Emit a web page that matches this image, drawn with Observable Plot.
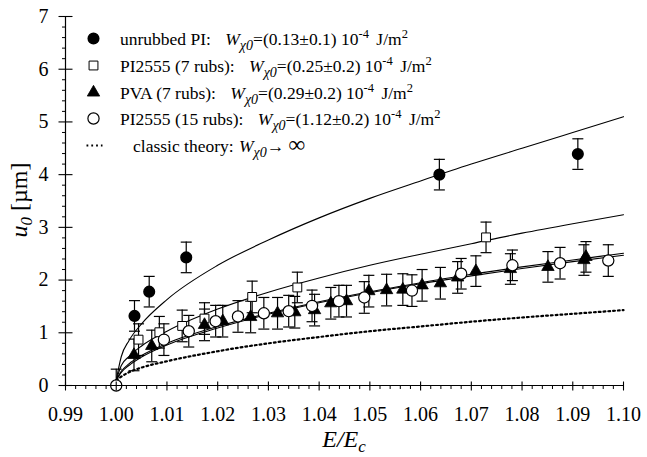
<!DOCTYPE html>
<html><head><meta charset="utf-8">
<script src="https://cdn.jsdelivr.net/npm/d3@7"></script>
<script src="https://cdn.jsdelivr.net/npm/@observablehq/plot@0.6"></script>
<style>
html,body{margin:0;padding:0;background:#fff}
svg{display:block}
svg text{font-family:"Liberation Serif","Times New Roman",serif}
</style>
</head><body><div id="chart"></div>
<script>
// ---- tick labels ----
const xTicks = [0.99, 1.00, 1.01, 1.02, 1.03, 1.04, 1.05, 1.06, 1.07, 1.08, 1.09, 1.10];
const yTicks = [0, 1, 2, 3, 4, 5, 6, 7];

// ---- measured data (E/Ec, u0, error) ----
const piX   = [1.0036, 1.0065, 1.0138, 1.0637, 1.0910];
const piY   = [1.32, 1.78, 2.43, 4.00, 4.39];
const piErr = [0.29, 0.29, 0.29, 0.29, 0.29];

const pi7X   = [1.0044, 1.0085, 1.0130, 1.0174, 1.0268, 1.0357, 1.0729];
const pi7Y   = [0.87, 1.01, 1.13, 1.27, 1.68, 1.86, 2.81];
const pi7Err = [0.30, 0.30, 0.30, 0.30, 0.30, 0.29, 0.29];

const pvaX   = [1.0035, 1.0070, 1.0174, 1.0210, 1.0265, 1.0318, 1.0352, 1.0391, 1.0423, 1.0454, 1.0498, 1.0533, 1.0565, 1.0603, 1.0639, 1.0673, 1.0709, 1.0777, 1.0851, 1.0922, 1.0926];
const pvaY   = [0.58, 0.75, 1.15, 1.22, 1.30, 1.37, 1.39, 1.43, 1.56, 1.60, 1.79, 1.81, 1.82, 1.90, 1.94, 2.05, 2.17, 2.21, 2.25, 2.38, 2.44];
const pvaErr = [0.30, 0.30, 0.30, 0.30, 0.30, 0.30, 0.30, 0.30, 0.30, 0.30, 0.30, 0.30, 0.30, 0.30, 0.30, 0.30, 0.29, 0.29, 0.29, 0.29, 0.29];

const pi15X   = [1.0000, 1.0094, 1.0143, 1.0196, 1.0240, 1.0291, 1.0340, 1.0386, 1.0439, 1.0489, 1.0583, 1.0680, 1.0781, 1.0875, 1.0970];
const pi15Y   = [0.00, 0.87, 1.03, 1.22, 1.31, 1.37, 1.41, 1.51, 1.60, 1.67, 1.80, 2.12, 2.28, 2.32, 2.37];
const pi15Err = [0.31, 0.30, 0.30, 0.30, 0.30, 0.30, 0.30, 0.30, 0.30, 0.30, 0.30, 0.29, 0.29, 0.30, 0.30];

// ---- fitted / theory curves ----
const curveX   = [1.000, 1.001, 1.0025, 1.005, 1.01, 1.02, 1.03, 1.04, 1.05, 1.06, 1.07, 1.08, 1.09, 1.10];
const fitPI    = [0.10, 0.55, 0.85, 1.17, 1.63, 2.28, 2.76, 3.18, 3.55, 3.88, 4.20, 4.50, 4.80, 5.10];
const fitPI7   = [0.10, 0.38, 0.55, 0.75, 1.03, 1.45, 1.77, 2.04, 2.28, 2.49, 2.69, 2.89, 3.07, 3.24];
const fitPVA   = [0.10, 0.25, 0.38, 0.54, 0.77, 1.09, 1.35, 1.57, 1.76, 1.93, 2.08, 2.22, 2.35, 2.47];
const fitPI15  = [0.10, 0.27, 0.41, 0.57, 0.80, 1.12, 1.37, 1.59, 1.78, 1.95, 2.11, 2.25, 2.38, 2.51];
const classic  = [0.10, 0.17, 0.25, 0.34, 0.46, 0.65, 0.80, 0.92, 1.03, 1.12, 1.21, 1.29, 1.36, 1.43];

// ---- legend text ----
const legendNames  = ["unrubbed PI: ", "PI2555 (7 rubs): ", "PVA (7 rubs): ", "PI2555 (15 rubs): ", "classic theory: "];
const legendValues = ["=(0.13\u00b10.1) 10", "=(0.25\u00b10.2) 10", "=(0.29\u00b10.2) 10", "=(1.12\u00b10.2) 10", null];

// ---- build tables ----
const pts = (X, Y, E) => X.map((x, i) => ({x, y: Y[i], e: E[i]}));
const dPI = pts(piX, piY, piErr), dPI7 = pts(pi7X, pi7Y, pi7Err), dPVA = pts(pvaX, pvaY, pvaErr), dPI15 = pts(pi15X, pi15Y, pi15Err);
const allPts = [...dPI, ...dPI7, ...dPVA, ...dPI15];
const crv = Y => curveX.map((x, i) => ({x, y: Y[i]}));

const xMinor = d3.range(0, 56).map(i => 0.99 + i * 0.002).filter(v => Math.abs((v * 100) - Math.round(v * 100)) > 1e-6);
const yMinor = d3.range(0, 36).map(i => i * 0.2).filter(v => Math.abs(v - Math.round(v)) > 1e-6);

// custom symbols
const sym = (x1, y1, x2, y2) => ({draw(c) { c.moveTo(x1, y1); c.lineTo(x2, y2); }});
const xMajSym = sym(0, -4, 0, 5), xMinSym = sym(0, 0, 0, 3.5);
const yMajSym = sym(-7, 0, 7, 0), yMinSym = sym(-3.5, 0, 0, 0);
const capSym = sym(-5.5, 0, 5.5, 0);
const dotLineSym = sym(-8, 0, 8, 0);

const FONT = '"Liberation Serif", "Times New Roman", serif';
const lineOpts = {x: "x", y: "y", stroke: "#000", strokeWidth: 1.1, curve: "monotone-x"};
const DOTS = "1.8,3";

const plot = Plot.plot({
  width: 647, height: 457,
  marginLeft: 65, marginRight: 24, marginTop: 16, marginBottom: 72,
  style: {fontSize: "20px", color: "#000", background: "#fff", overflow: "visible"},
  x: {domain: [0.99, 1.10], axis: null},
  y: {domain: [0, 7], axis: null},
  marks: [
    // curves
    Plot.line(crv(classic), {...lineOpts, strokeWidth: 2.2, strokeDasharray: DOTS}),
    Plot.line(crv(fitPI), lineOpts),
    Plot.line(crv(fitPI7), lineOpts),
    Plot.line(crv(fitPVA), lineOpts),
    Plot.line(crv(fitPI15), lineOpts),
    // error bars
    Plot.ruleX(allPts, {x: "x", y1: d => Math.max(0, d.y - d.e), y2: d => d.y + d.e, stroke: "#000", strokeWidth: 1.2}),
    Plot.dot(allPts, {x: "x", y: d => d.y + d.e, symbol: capSym, stroke: "#000", strokeWidth: 1.2, fill: "none"}),
    Plot.dot(allPts.filter(d => d.y - d.e >= 0), {x: "x", y: d => d.y - d.e, symbol: capSym, stroke: "#000", strokeWidth: 1.2, fill: "none"}),
    // markers
    Plot.dot(dPI7, {x: "x", y: "y", symbol: "square", r: 5, fill: "#fff", stroke: "#000", strokeWidth: 1}),
    Plot.dot(dPVA, {x: "x", y: "y", symbol: "triangle", r: 4.6, fill: "#000", stroke: "#000", strokeWidth: 0.8}),
    Plot.dot(dPI15, {x: "x", y: "y", r: 5.6, fill: "#fff", stroke: "#000", strokeWidth: 1.2}),
    Plot.dot(dPI, {x: "x", y: "y", r: 5.3, fill: "#000", stroke: "#000"}),
    // axes
    Plot.ruleY([0], {stroke: "#000", strokeWidth: 1.2}),
    Plot.ruleX([0.99], {stroke: "#000", strokeWidth: 1.2}),
    Plot.dot(xTicks, {x: d => d, y: () => 0, symbol: xMajSym, stroke: "#000", strokeWidth: 1.1, fill: "none"}),
    Plot.dot(xMinor, {x: d => d, y: () => 0, symbol: xMinSym, stroke: "#000", strokeWidth: 1, fill: "none"}),
    Plot.dot(yTicks, {x: () => 0.99, y: d => d, symbol: yMajSym, stroke: "#000", strokeWidth: 1.1, fill: "none"}),
    Plot.dot(yMinor, {x: () => 0.99, y: d => d, symbol: yMinSym, stroke: "#000", strokeWidth: 1, fill: "none"}),
    Plot.text(xTicks, {x: d => d, y: () => 0, text: d => d3.format(".2f")(d), dy: 29, fontSize: 20, fill: "#000"}),
    Plot.text(yTicks, {x: () => 0.99, y: d => d, text: d => String(d), dx: -17, textAnchor: "end", fontSize: 20, fill: "#000"}),
    // legend markers
    Plot.dot([0], {frameAnchor: "top-left", dx: 28, dy: 22, r: 5.3, fill: "#000", stroke: "#000"}),
    Plot.dot([0], {frameAnchor: "top-left", dx: 28, dy: 49, symbol: "square", r: 5, fill: "#fff", stroke: "#000", strokeWidth: 1}),
    Plot.dot([0], {frameAnchor: "top-left", dx: 28, dy: 76, symbol: "triangle", r: 4.6, fill: "#000", stroke: "#000", strokeWidth: 0.8}),
    Plot.dot([0], {frameAnchor: "top-left", dx: 28, dy: 102, r: 5.6, fill: "#fff", stroke: "#000", strokeWidth: 1.2}),
    Plot.dot([0], {frameAnchor: "top-left", dx: 29, dy: 129, symbol: dotLineSym, stroke: "#000", strokeWidth: 2.2, strokeDasharray: DOTS, fill: "none"})
  ]
});

document.getElementById("chart").appendChild(plot);

// ---- rich text: legend and axis titles ----
const svg = d3.select(plot).attr("font-family", FONT);
const g = svg.append("g").attr("font-family", FONT).attr("font-size", 17.5).attr("fill", "#000").attr("text-anchor", "start");
const rowY = [45, 72, 99, 125, 152];
legendNames.forEach((name, i) => {
  const last = legendValues[i] === null;
  const t = g.append("text").attr("x", last ? 133 : 120).attr("y", rowY[i]);
  t.append("tspan").text(name);
  t.append("tspan").attr("font-style", "italic").attr("dx", last ? 1 : 10).text("W");
  t.append("tspan").attr("font-style", "italic").attr("font-size", 14).attr("dy", 5).text("\u03c70");
  if (last) {
    t.append("tspan").attr("dy", -5).text("\u2192 ");
    t.append("tspan").attr("font-style", "italic").attr("font-size", 23).text("\u221e");
  } else {
    t.append("tspan").attr("dy", -5).text(legendValues[i]);
    t.append("tspan").attr("font-size", 12.5).attr("dy", -7).text("-4");
    t.append("tspan").attr("dy", 7).attr("dx", 3).text(" J/m");
    t.append("tspan").attr("font-size", 12.5).attr("dy", -7).text("2");
  }
});

const xl = svg.append("text").attr("font-family", FONT).attr("font-size", 24).attr("text-anchor", "middle")
  .attr("x", 344).attr("y", 447);
xl.append("tspan").attr("font-style", "italic").text("E/E");
xl.append("tspan").attr("font-style", "italic").attr("font-size", 17).attr("dy", 5).text("c");

const yl = svg.append("text").attr("font-family", FONT).attr("font-size", 24).attr("text-anchor", "middle")
  .attr("transform", "translate(27,200) rotate(-90)");
yl.append("tspan").attr("font-style", "italic").text("u");
yl.append("tspan").attr("font-style", "italic").attr("font-size", 17).attr("dy", 5).text("0");
yl.append("tspan").attr("dy", -5).text(" [\u00b5m]");
</script>
</body></html>
